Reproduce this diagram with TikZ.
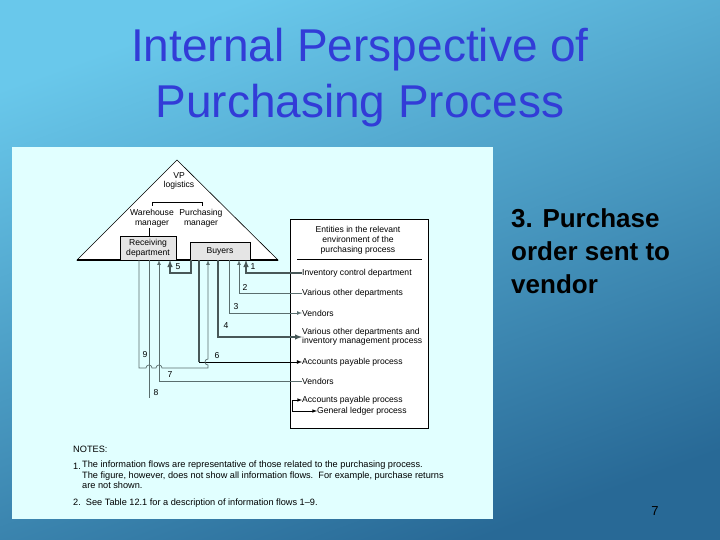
\documentclass[tikz,border=0pt]{standalone}
\usepackage{fontspec}
\setmainfont{Liberation Sans}
\usetikzlibrary{positioning}
\definecolor{bgtop}{RGB}{105,200,235}
\definecolor{bgbot}{RGB}{40,105,150}
\definecolor{panel}{RGB}{225,255,255}
\definecolor{titleblue}{RGB}{50,60,215}
\definecolor{flow}{RGB}{90,110,110}
\tikzset{
  small/.style={font=\fontsize{8.6}{9.8}\selectfont, inner sep=0pt, align=center},
  entry/.style={font=\fontsize{8.6}{9.5}\selectfont, inner sep=0pt, anchor=west, align=left},
  num/.style={font=\fontsize{8.6}{9}\selectfont, inner sep=0pt},
  note/.style={font=\fontsize{9.2}{10.5}\selectfont, inner sep=0pt, anchor=west, align=left},
  unit/.style={draw=black, fill=black!10, line width=0.8pt, align=center, font=\fontsize{8.6}{9.8}\selectfont, inner sep=0pt},
  line/.style={draw=flow, line width=0.7pt},
  thick line/.style={draw=flow!80!black, line width=1.4pt},
  tip/.style={-latex},
}
\begin{document}
\begin{tikzpicture}[x=1pt,y=-1pt]
\useasboundingbox (0,0) rectangle (720,540);
\shade[top color=bgtop, bottom color=bgbot, shading angle=20] (0,0) rectangle (720,540);
\fill[panel] (12,147) rectangle (493,519);

% title and side text
\node[titleblue, font=\fontsize{46}{56}\selectfont, align=center] (title) at (360,78) {Internal Perspective of\\Purchasing Process};
\node[font=\bfseries\fontsize{26}{33}\selectfont, align=left, anchor=north west, inner sep=0pt] (step) at (511,208) {3. Purchase\\order sent to\\vendor};
\node[font=\fontsize{13}{15}\selectfont] (page) at (655,511) {7};

% organisation triangle
\draw[fill=white, line width=0.6pt] (177,160) -- (278,260) -- (77,260) -- cycle;
\draw[line width=1.6pt] (77,260) -- (278,260);
\node[small] (vp) at (179,181) {VP\\logistics};
\draw (152,206) -- (152,202) -- (202,202) -- (202,206);
\node[small] (wm) at (152,218) {Warehouse\\manager};
\node[small] (pm) at (201,218) {Purchasing\\manager};
\draw (149,228) -- (149,236);
\node[unit, minimum width=56pt, minimum height=24pt] (recv) at (148,248) {Receiving\\department};
\node[unit, minimum width=60pt, minimum height=18pt] (buy) at (220,251) {Buyers};

% environment box
\draw[fill=white, line width=0.6pt] (290,219) rectangle (428,428);
\node[small] (env) at (358,240) {Entities in the relevant\\environment of the\\purchasing process};
\draw (297,259) -- (422,259);
\node[entry] (inv) at (302,273) {Inventory control department};
\node[entry] (oth) at (302,293) {Various other departments};
\node[entry] (ven1) at (302,313) {Vendors};
\node[entry] (oth2) at (302,337) {Various other departments and\\inventory management process};
\node[entry] (ap1) at (302,362) {Accounts payable process};
\node[entry] (ven2) at (302,381) {Vendors};
\node[entry] (ap2) at (302,400) {Accounts payable process};
\node[entry] (gl) at (317,411) {General ledger process};

% information flows
\draw[thick line, tip] (inv.west) -| (246,260);
\node[num] (n1) at (253,267) {1};
\draw[line, tip] (oth.west) -| (239,260);
\node[num] (n2) at (245,287) {2};
\draw[line, tip] (229,260) |- (ven1.west);
\node[num] (n3) at (236,307) {3};
\draw[thick line, tip] (218,260) |- (oth2.west);
\node[num] (n4) at (226,326) {4};
\draw[thick line, tip] (191,260) |- (170,273) -- (170,260);
\node[num] (n5) at (178,267) {5};
\draw[thick line] (199,260) -- (199,362);
\draw[line width=0.8pt, black, tip] (199,362) -- (ap1.west);
\node[num] (n6) at (217,356) {6};
\draw[line, tip] (139,260) -- (139,368) -- (146,368) arc[start angle=180, end angle=0, radius=3pt]
  -- (156,368) arc[start angle=180, end angle=0, radius=3pt] -- (208,368) -- (208,365)
  .. controls (204,365) and (204,359) .. (208,359) -- (208,260);
\node[num] (n9) at (145,355) {9};
\node[num] (n7) at (170,375) {7};
\draw[line, tip] (ven2.west) -| (159,260);
\draw[line] (149,260) -- (149,398);
\node[num] (n8) at (156,393) {8};
\draw[line width=0.6pt, tip] (292,411) -- (292,400) -- (ap2.west);
\draw[line width=0.6pt, tip] (292,411) -- (gl.west);

% notes
\node[note] (notes) at (73,449) {NOTES:};
\node[note] (note1n) at (73,466) {1.};
\node[note, anchor=north west] (note1) at (82,461) {The information flows are representative of those related to the purchasing process.\\The figure, however, does not show all information flows.\ \ For example, purchase returns\\are not shown.};
\node[note] (note2) at (73,503) {2.\ \ See Table 12.1 for a description of information flows 1--9.};
\end{tikzpicture}
\end{document}
